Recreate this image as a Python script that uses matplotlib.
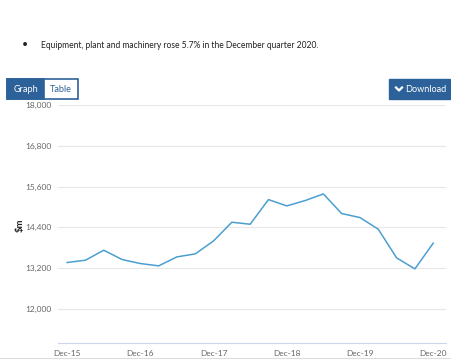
import matplotlib
matplotlib.use("Agg")
import matplotlib.pyplot as plt
from matplotlib.patches import Rectangle
from matplotlib.lines import Line2D

plt.rcParams['font.family'] = ['Lato', 'DejaVu Sans']

quarters = ["Dec-15", "Mar-16", "Jun-16", "Sep-16", "Dec-16", "Mar-17", "Jun-17", "Sep-17",
            "Dec-17", "Mar-18", "Jun-18", "Sep-18", "Dec-18", "Mar-19", "Jun-19", "Sep-19",
            "Dec-19", "Mar-20", "Jun-20", "Sep-20", "Dec-20"]
values = [13367, 13435, 13729, 13455, 13337, 13269, 13533, 13621, 14003, 14552, 14493,
          15218, 15032, 15189, 15384, 14807, 14689, 14346, 13504, 13180, 13935]
y_ticks = [12000, 13200, 14400, 15600, 16800, 18000]
x_tick_labels = ["Dec-15", "Dec-16", "Dec-17", "Dec-18", "Dec-19", "Dec-20"]

W, H = 451, 360
fig = plt.figure(figsize=(W / 100, H / 100), dpi=100)
fig.patch.set_facecolor("white")

def fx(px):
    return px / W

def fy(py):
    return 1 - py / H

# Header text
fig.text(fx(25), fy(45), "\u2022", fontsize=7.5, color="#222222", va="center", ha="center")
fig.text(fx(41), fy(45), "Equipment, plant and machinery rose 5.7% in the December quarter 2020.",
         fontsize=6.15, color="#222222", va="center", ha="left")

btn_color = "#2d6199"
# Graph / Table toggle
fig.patches.append(Rectangle((fx(7), fy(99)), fx(71), 20 / H, transform=fig.transFigure,
                             facecolor="white", edgecolor=btn_color, linewidth=1.2))
fig.patches.append(Rectangle((fx(7), fy(99)), fx(37), 20 / H, transform=fig.transFigure,
                             facecolor=btn_color, edgecolor=btn_color, linewidth=1.2))
fig.text(fx(26), fy(89), "Graph", fontsize=6.6, color="white", va="center", ha="center")
fig.text(fx(61), fy(89), "Table", fontsize=6.6, color=btn_color, va="center", ha="center")

# Download button
fig.patches.append(Rectangle((fx(389), fy(99)), fx(61), 20 / H, transform=fig.transFigure,
                             facecolor=btn_color, edgecolor=btn_color, linewidth=1))
fig.lines.append(Line2D([fx(396), fx(399), fx(402)], [fy(87.5), fy(90.5), fy(87.5)],
                        transform=fig.transFigure, color="white", linewidth=1.6))
fig.text(fx(426), fy(89), "Download", fontsize=6.6, color="white", va="center", ha="center")

# faint bottom rule
fig.lines.append(Line2D([0, 1], [fy(358), fy(358)], transform=fig.transFigure,
                        color="#dddddd", linewidth=0.8))

# Chart axes
ax = fig.add_axes([fx(58), fy(343), fx(446) - fx(58), (343 - 105) / H])
x = list(range(len(values)))
ax.plot(x, values, color="#4b9fd0", linewidth=1.1)
ax.set_ylim(11000, 18000)
ax.set_xlim(-0.5, 20.7)
ax.set_yticks(y_ticks)
ax.set_yticklabels([f"{v:,}" for v in y_ticks])
ax.set_xticks([quarters.index(l) for l in x_tick_labels])
ax.set_xticklabels(x_tick_labels)
ax.tick_params(axis="both", length=0, labelsize=6, labelcolor="#666666")
ax.tick_params(axis="y", pad=5)
ax.tick_params(axis="x", pad=5)
ax.grid(axis="y", color="#e8e8e8", linewidth=0.8)
ax.set_axisbelow(True)
for s in ["top", "right", "left"]:
    ax.spines[s].set_visible(False)
ax.spines["bottom"].set_color("#ccd6eb")
ax.spines["bottom"].set_linewidth(0.8)

fig.text(fx(20), fy(225), "\\$m", fontsize=6.8, fontweight="bold", color="#222222",
         rotation=90, va="center", ha="center")

fig.savefig("out.png", dpi=100)
